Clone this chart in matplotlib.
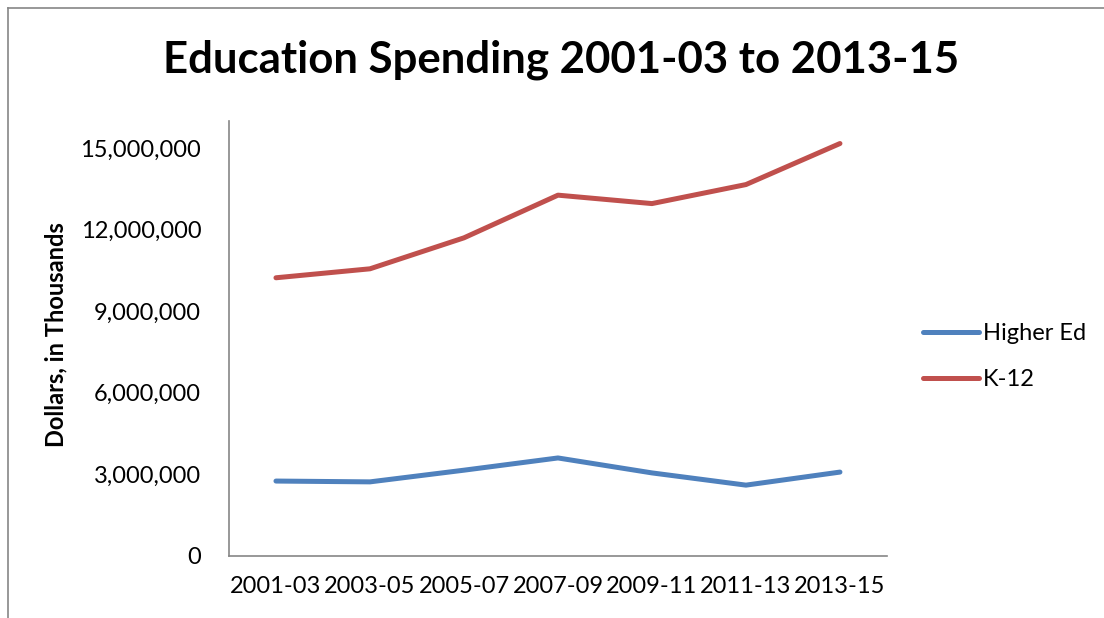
import matplotlib.pyplot as plt
from matplotlib.lines import Line2D
from matplotlib.ticker import FuncFormatter, MultipleLocator

periods = ["2001-03", "2003-05", "2005-07", "2007-09", "2009-11", "2011-13", "2013-15"]
higher_ed = [2740000, 2710000, 3140000, 3590000, 3040000, 2590000, 3070000]
k12 = [10220000, 10550000, 11690000, 13260000, 12950000, 13650000, 15160000]

plt.rcParams['font.family'] = ['Lato', 'DejaVu Sans']

fig = plt.figure(figsize=(11.04, 6.18), dpi=100)
ax = fig.add_axes([0.2074, 0.1011, 0.5960, 0.7036])

x = list(range(len(periods)))
ax.plot(x, higher_ed, color='#4F81BD', lw=3.6, solid_capstyle='round', label='Higher Ed')
ax.plot(x, k12, color='#C0504D', lw=3.6, solid_capstyle='round', label='K-12')

ax.set_xlim(-0.5, len(periods) - 0.5)
ax.set_ylim(0, 16000000)
ax.yaxis.set_major_locator(MultipleLocator(3000000))
ax.yaxis.set_major_formatter(FuncFormatter(lambda v, p: f"{v:,.0f}"))
ax.set_xticks(x)
ax.set_xticklabels(periods)
ax.tick_params(axis='both', length=0, labelsize=17)
ax.tick_params(axis='y', pad=20)
ax.tick_params(axis='x', pad=15)

for side in ['top', 'right']:
    ax.spines[side].set_visible(False)
for side in ['left', 'bottom']:
    ax.spines[side].set_color('#868686')
    ax.spines[side].set_linewidth(1.2)

ax.set_ylabel('Dollars, in Thousands', fontsize=17, fontweight='bold')
ax.yaxis.set_label_coords(67 / 1104, 1 - 335 / 618, transform=fig.transFigure)

fig.text(0.508, 0.903, 'Education Spending 2001-03 to 2013-15',
         ha='center', va='center', fontsize=31.5, fontweight='bold')

ax.legend(loc='center left', bbox_to_anchor=(0.836, 0.423), bbox_transform=fig.transFigure,
          frameon=False, fontsize=17, handlelength=2.37, handletextpad=0.17,
          labelspacing=1.08, borderpad=0, borderaxespad=0)

# outer chart border, only top and left edges show
fig.add_artist(Line2D([8 / 1104, 1.0], [1 - 8 / 618, 1 - 8 / 618], transform=fig.transFigure,
                      color='#868686', lw=1.2))
fig.add_artist(Line2D([8 / 1104, 8 / 1104], [0.0, 1 - 8 / 618], transform=fig.transFigure,
                      color='#868686', lw=1.2))

fig.savefig('out.png', dpi=100)
